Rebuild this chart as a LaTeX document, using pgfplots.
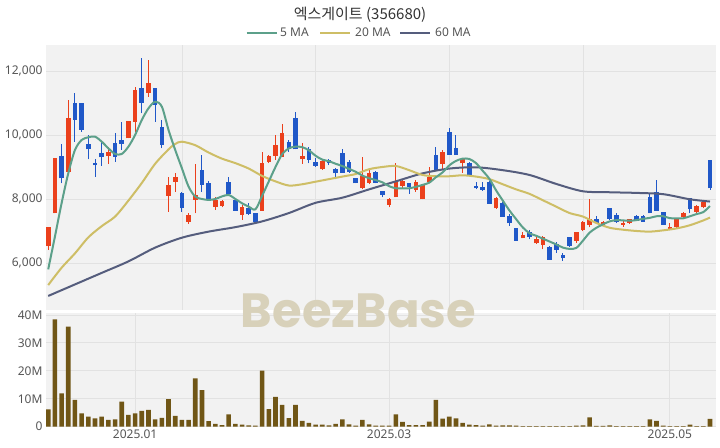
\documentclass[border=0pt]{standalone}
\usepackage{pgfplots}
\pgfplotsset{compat=1.18}
\usepackage{pgfplotstable}
\usepackage{fontspec}
\setmainfont{Noto Sans}
\newfontfamily\cjk{Noto Sans CJK KR}
\newfontfamily\wm{Poppins}
\definecolor{upc}{RGB}{235,64,28}
\definecolor{dnc}{RGB}{32,88,200}
\definecolor{ma5}{RGB}{92,160,138}
\definecolor{ma20}{RGB}{206,190,102}
\definecolor{ma60}{RGB}{85,93,125}
\definecolor{volc}{RGB}{112,86,22}
\definecolor{bgc}{RGB}{242,242,242}
\definecolor{gridc}{RGB}{226,226,226}
\definecolor{txt}{RGB}{85,85,85}
\definecolor{wmc}{RGB}{216,209,186}

\pgfplotstableread{
i o h l c
0 6531 7135 6406 7135
1 7550 9270 7550 9270
2 9344 9708 8490 8646
3 8854 11094 8802 10521
4 10990 11302 9792 10469
5 10990 10990 10104 10156
6 9708 10000 9240 9552
7 9115 9240 8698 9052
8 9448 9792 9031 9302
9 9344 9636 9094 9479
10 9760 10052 9167 9323
11 9844 10417 9531 9719
12 9896 10438 9896 10438
13 10417 11510 10100 11406
14 11458 12396 10677 11010
15 11323 12344 11198 11635
16 11458 11458 10420 10938
17 10260 10469 9583 9688
18 8094 8698 7604 8438
19 8542 8802 8229 8698
20 8197 8228 7603 7709
21 7292 7552 7219 7500
22 7969 9094 7552 8125
23 8906 9375 8229 8438
24 8490 8573 7969 7990
25 7760 8073 7656 7969
26 7781 7969 7740 7938
27 8542 8677 8125 8156
28 7969 7969 7635 7635
29 7500 7813 7344 7740
30 7708 7865 7500 7521
31 7552 7552 7292 7292
32 7625 9479 7625 9115
33 9167 9375 9115 9344
34 9344 10000 9219 9688
35 9323 10344 9323 10052
36 9792 9844 9479 9552
37 10521 10729 9552 9552
38 9240 9740 9094 9344
39 9552 9635 9115 9219
40 9167 9271 9010 9031
41 8927 9229 8906 9198
42 9219 9240 9060 9115
43 8927 8958 8615 8802
44 9427 9552 8823 8823
45 9167 9219 8823 8854
46 8646 8646 8490 8490
47 8333 9302 8302 8719
48 8510 8958 8458 8802
49 8854 8880 8490 8510
50 8260 8260 8052 8125
51 7813 8021 7740 7990
52 8052 9135 8052 8542
53 8406 8615 8333 8573
54 8490 8500 8156 8385
55 8281 8594 8229 8542
56 7990 8460 7990 8438
57 8542 9010 8490 8677
58 9375 9635 8906 8906
59 9100 9531 8900 9479
60 10104 10208 9375 9375
61 9583 10000 9375 9375
62 9115 9271 8823 9240
63 9135 9170 8720 8750
64 8406 8542 8302 8333
65 8385 8542 8260 8281
66 8542 8560 7844 7844
67 7708 8050 7690 8021
68 7865 7900 7448 7448
69 7479 7531 7156 7240
70 7083 7083 6698 6698
71 6771 6979 6771 6875
72 6979 7031 6740 6802
73 6615 6875 6594 6740
74 6563 6830 6427 6823
75 6510 6530 6094 6094
76 6594 6667 6323 6406
77 6250 6323 6073 6146
78 6802 6823 6510 6542
79 6688 6979 6635 6979
80 7031 7300 6990 7292
81 7188 7990 7115 7365
82 7385 7469 7219 7240
83 7156 7300 7140 7292
84 7708 7708 7333 7385
85 7500 7552 7260 7292
86 7188 7323 7135 7260
87 7260 7385 7219 7365
88 7479 7500 7323 7323
89 7479 7500 7292 7292
90 8073 8198 7552 7552
91 8229 8594 7635 7635
92 7583 7600 7188 7188
93 7052 7240 7052 7115
94 7115 7400 7090 7385
95 7427 7604 7385 7573
96 8021 8021 7552 7677
97 7604 7813 7573 7781
98 7740 7948 7708 7917
99 9219 9219 8281 8333
}\candles

\pgfplotstableread{
i v
0 6.2
1 38.4
2 11.9
3 35.8
4 9.6
5 4.8
6 3.6
7 3.0
8 3.6
9 2.4
10 2.6
11 9.0
12 4.2
13 4.8
14 5.7
15 6.0
16 2.6
17 3.2
18 9.9
19 3.9
20 2.4
21 2.4
22 17.3
23 13.1
24 2.0
25 1.0
26 0.6
27 4.4
28 1.0
29 0.7
30 0.5
31 0.4
32 20.1
33 6.3
34 10.7
35 7.8
36 3.1
37 7.8
38 2.1
39 1.4
40 0.7
41 0.7
42 0.5
43 1.0
44 2.6
45 0.8
46 0.4
47 2.4
48 0.8
49 0.4
50 0.4
51 0.4
52 4.4
53 1.7
54 0.6
55 0.6
56 0.6
57 1.8
58 9.6
59 2.9
60 3.6
61 3.0
62 1.4
63 0.7
64 0.6
65 0.4
66 0.8
67 0.4
68 0.5
69 0.5
70 0.4
71 0.2
72 0.2
73 0.2
74 0.2
75 0.2
76 0.2
77 0.2
78 0.2
79 0.4
80 0.5
81 3.3
82 0.3
83 0.3
84 0.5
85 0.2
86 0.2
87 0.2
88 0.2
89 0.2
90 2.6
91 2.1
92 0.4
93 0.2
94 0.2
95 0.2
96 0.7
97 0.2
98 0.2
99 2.8
}\vol

\pgfplotstableread{
i m
0 5800
1 6820
2 7865
3 8800
4 9530
5 9844
6 9927
7 9948
8 9792
9 9583
10 9406
11 9406
12 9635
13 10000
14 10469
15 10833
16 11040
17 10885
18 10156
19 9531
20 8960
21 8385
22 8073
23 8000
24 7970
25 8000
26 8080
27 8125
28 8000
29 7865
30 7760
31 7677
32 8100
33 8550
34 9000
35 9400
36 9583
37 9635
38 9620
39 9520
40 9350
41 9230
42 9180
43 9100
44 9030
45 8940
46 8850
47 8730
48 8650
49 8590
50 8520
51 8400
52 8333
53 8333
54 8333
55 8380
56 8440
57 8510
58 8680
59 8830
60 9050
61 9190
62 9260
63 9250
64 9120
65 8880
66 8630
67 8270
68 7950
69 7640
70 7370
71 7110
72 6930
73 6850
74 6760
75 6670
76 6580
77 6480
78 6440
79 6470
80 6700
81 6950
82 7100
83 7210
84 7300
85 7340
86 7330
87 7320
88 7340
89 7380
90 7410
91 7460
92 7460
93 7400
94 7396
95 7396
96 7460
97 7530
98 7590
99 7780
}\maf

\pgfplotstableread{
i m
0 5310
2 5850
4 6300
6 6800
8 7150
10 7450
12 7950
14 8500
16 9100
18 9550
19 9720
20 9790
22 9680
24 9450
26 9260
28 9120
30 8950
32 8720
34 8550
36 8420
38 8460
40 8540
42 8620
44 8700
46 8780
48 8930
50 9000
52 9030
54 8900
56 8750
58 8710
60 8710
62 8740
64 8700
66 8620
68 8460
70 8300
72 8160
74 7960
76 7760
78 7560
80 7450
82 7250
84 7100
86 7040
88 7000
90 6980
92 7020
94 7080
96 7180
98 7330
99 7420
}\mat

\pgfplotstableread{
i m
0 4970
4 5330
8 5690
12 6050
16 6480
20 6790
24 6980
28 7120
32 7300
36 7560
40 7880
44 8040
48 8300
52 8550
56 8800
60 8950
64 8990
68 8900
72 8750
76 8470
80 8240
84 8210
88 8190
92 8150
96 7990
99 7920
}\mas

\pgfplotsset{
  every axis/.append style={
    scale only axis, width=670bp,
    xmin=-0.33, xmax=99.9,
    axis background/.style={fill=bgc},
    axis line style={draw=none}, tick style={draw=none},
    grid=major, major grid style={draw=gridc, line width=0.8bp},
    ticklabel style={font=\fontsize{12bp}{14bp}\selectfont, text=txt},
    scaled ticks=false,
    /pgf/number format/assume math mode=true,
  }
}

\begin{document}
\begin{tikzpicture}[x=1bp,y=1bp]
\path[use as bounding box] (0,0) rectangle (720,448);

\begin{axis}[at={(46bp,138bp)}, anchor=south west, height=265bp,
  ymin=4531, ymax=12812,
  xtick={20,40,60,80}, xticklabels={},
  ytick={6000,8000,10000,12000},
  /pgf/number format/1000 sep={,},
]
% wicks up
\addplot[draw=none, mark=none, forget plot,
  restrict expr to domain={\thisrow{c}-\thisrow{o}}{0:100000},
  error bars/.cd, y dir=plus, y explicit, error mark=none,
  error bar style={draw=upc, line width=1bp}]
  table[x=i, y=l, y error expr=\thisrow{h}-\thisrow{l}] {\candles};
% bodies up
\addplot[draw=none, mark=none, forget plot,
  restrict expr to domain={\thisrow{c}-\thisrow{o}}{0:100000},
  error bars/.cd, y dir=plus, y explicit, error mark=none,
  error bar style={draw=upc, line width=4.6bp}]
  table[x=i, y=o, y error expr=\thisrow{c}-\thisrow{o}] {\candles};
% wicks down
\addplot[draw=none, mark=none, forget plot,
  restrict expr to domain={\thisrow{o}-\thisrow{c}}{0.001:100000},
  error bars/.cd, y dir=plus, y explicit, error mark=none,
  error bar style={draw=dnc, line width=1bp}]
  table[x=i, y=l, y error expr=\thisrow{h}-\thisrow{l}] {\candles};
% bodies down
\addplot[draw=none, mark=none, forget plot,
  restrict expr to domain={\thisrow{o}-\thisrow{c}}{0.001:100000},
  error bars/.cd, y dir=plus, y explicit, error mark=none,
  error bar style={draw=dnc, line width=4.6bp}]
  table[x=i, y=c, y error expr=\thisrow{o}-\thisrow{c}] {\candles};
% moving averages
\addplot[ma60, line width=2bp, smooth, mark=none] table[x=i,y=m] {\mas};
\addplot[ma20, line width=2bp, smooth, mark=none] table[x=i,y=m] {\mat};
\addplot[ma5, line width=2bp, smooth, mark=none] table[x=i,y=m] {\maf};
\end{axis}

\begin{axis}[at={(46bp,21.3bp)}, anchor=south west, height=113.7bp,
  ymin=0, ymax=40.7,
  xtick={13,51,93}, xticklabels={2025.01,2025.03,2025.05},
  ytick={0,10,20,30,40}, yticklabels={0,10M,20M,30M,40M},
]
\addplot[ybar, bar width=4.6bp, fill=volc, draw=none] table[x=i,y=v] {\vol};
\end{axis}

\node[text=black!80, font=\cjk\fontsize{15bp}{17bp}\selectfont] at (360,433) {엑스게이트 (356680)};
\draw[ma5, line width=2bp] (246.7,415.3) -- (276.7,415.3);
\node[anchor=west, text=txt, font=\fontsize{12bp}{14bp}\selectfont, inner sep=0pt] at (280,415.3) {5 MA};
\draw[ma20, line width=2bp] (320,415.3) -- (350,415.3);
\node[anchor=west, text=txt, font=\fontsize{12bp}{14bp}\selectfont, inner sep=0pt] at (355,415.3) {20 MA};
\draw[ma60, line width=2bp] (400,415.3) -- (430,415.3);
\node[anchor=west, text=txt, font=\fontsize{12bp}{14bp}\selectfont, inner sep=0pt] at (435,415.3) {60 MA};
\node[text=wmc, font=\wm\bfseries\fontsize{48bp}{52bp}\selectfont] at (358.5,137) {BeezBase};
\end{tikzpicture}
\end{document}
